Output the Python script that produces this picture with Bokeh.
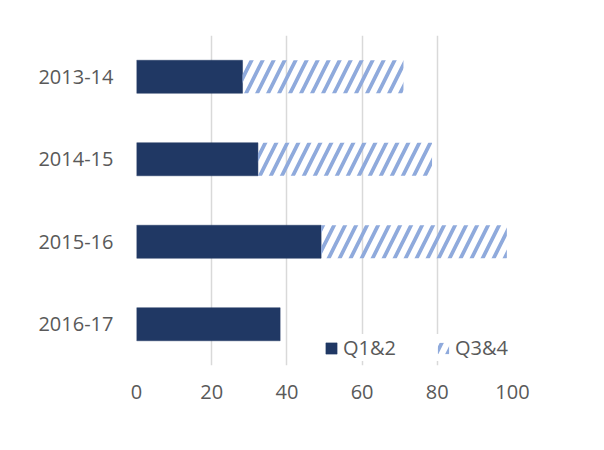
from bokeh.plotting import figure
from bokeh.models import Range1d, FactorRange, Legend, LegendItem, FixedTicker, Label
from bokeh.embed import file_html
from bokeh.resources import INLINE

title = "Chart 6 – Award values £m"
years = ["2013-14", "2014-15", "2015-16", "2016-17"]
q12 = [28.2, 32.3, 49.1, 38.2]
q34 = [42.8, 46.3, 49.4, 0.0]
x_ticks = [0, 20, 40, 60, 80, 100]
series_names = ["Q1&2", "Q3&4"]

dark = "#203864"
light = "#8FAADC"
txt = "#595959"
font = "Open Sans"

totals = [a + b for a, b in zip(q12, q34)]

W, H = 600, 447
p = figure(width=W, height=H, output_backend="svg", toolbar_location=None,
           x_range=Range1d(0, 100), y_range=FactorRange(factors=list(reversed(years)), range_padding=0),
           min_border_left=136, min_border_right=88, min_border_top=35, min_border_bottom=82)
p.outline_line_color = None
p.background_fill_color = "white"
p.border_fill_color = "white"

r1 = p.hbar(y=years, left=0, right=q12, height=0.4, fill_color=dark, line_color=dark, line_width=0.5)
r2 = p.hbar(y=years, left=q12, right=totals, height=0.4, fill_color="white", fill_alpha=0,
            line_color=None, hatch_pattern="/", hatch_color=light, hatch_scale=22, hatch_weight=3.8)

p.xaxis.ticker = FixedTicker(ticks=x_ticks)
for ax in (p.xaxis[0], p.yaxis[0]):
    ax.axis_line_color = None
    ax.major_tick_line_color = None
    ax.minor_tick_line_color = None
    ax.major_label_text_font = font
    ax.major_label_text_font_size = "20px"
    ax.major_label_text_color = txt
p.xaxis.major_label_standoff = 13
p.yaxis.major_label_standoff = 17

p.xgrid.grid_line_color = "#d9d9d9"
p.xgrid.grid_line_width = 1.5
p.ygrid.grid_line_color = None

legend = Legend(items=[LegendItem(label=series_names[0], renderers=[r1]),
                       LegendItem(label=series_names[1], renderers=[r2])],
                orientation="horizontal", location="bottom_right",
                label_text_font=font, label_text_font_size="20px", label_text_color=txt,
                glyph_width=14, glyph_height=14, spacing=40, label_standoff=5,
                border_line_color=None, background_fill_color="white", background_fill_alpha=1,
                padding=2, margin=4)
p.add_layout(legend, "center")

head = Label(x=184, y=361, x_units="screen", y_units="screen", text=title,
             text_align="center", text_baseline="alphabetic", text_font=font,
             text_font_style="bold", text_font_size="24px", text_color="black")
p.add_layout(head)

open("out.html", "w").write(file_html(p, INLINE))
